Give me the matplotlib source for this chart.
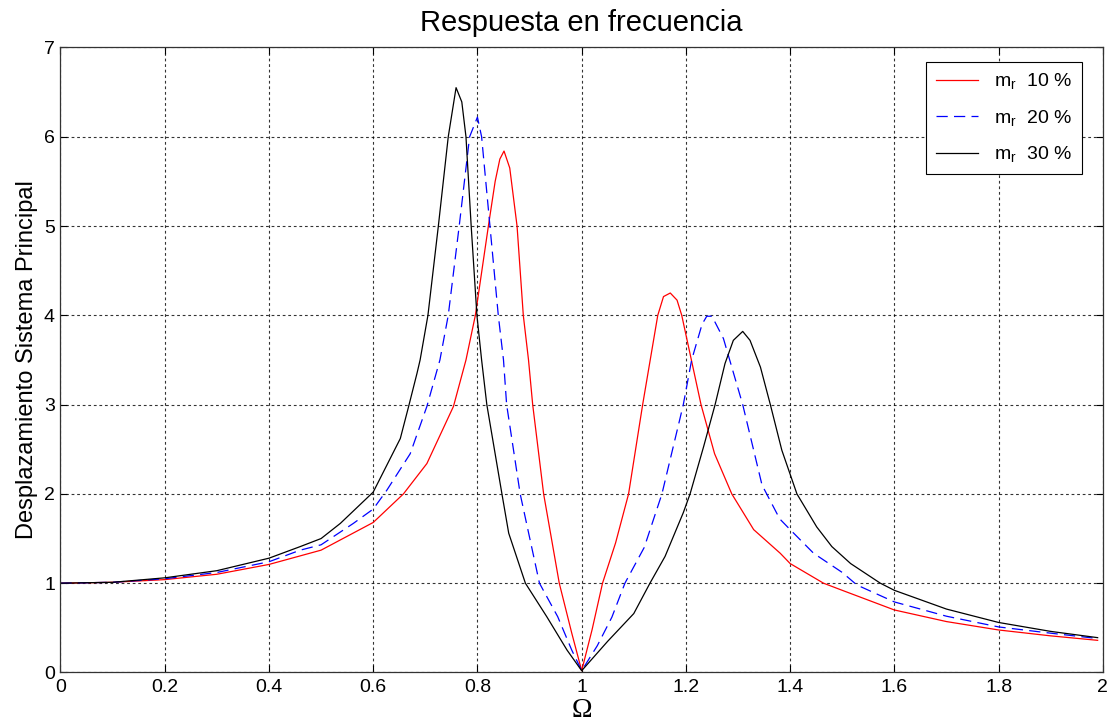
import matplotlib
matplotlib.use("Agg")
import matplotlib.pyplot as plt

# readings (Omega, displacement)
omega_10 = [0.0, 0.1, 0.2, 0.3, 0.4, 0.5, 0.6, 0.658, 0.703, 0.754, 0.778, 0.796,
            0.821, 0.834, 0.843, 0.851, 0.862, 0.876, 0.888, 0.898, 0.906, 0.927,
            0.957, 0.981, 1.0, 1.02, 1.04, 1.065, 1.09, 1.117, 1.146, 1.157, 1.170,
            1.183, 1.192, 1.229, 1.255, 1.288, 1.33, 1.381, 1.4, 1.464, 1.5, 1.6,
            1.7, 1.8, 1.9, 1.99]
disp_10 = [1.0, 1.01, 1.04, 1.10, 1.21, 1.37, 1.68, 2.0, 2.34, 2.98, 3.5, 4.0,
           5.0, 5.5, 5.75, 5.84, 5.65, 5.0, 4.0, 3.5, 3.0, 2.0,
           1.0, 0.44, 0.02, 0.48, 1.0, 1.45, 2.0, 3.0, 4.0, 4.21, 4.25,
           4.17, 4.0, 3.0, 2.45, 2.0, 1.6, 1.335, 1.22, 1.0, 0.92, 0.70,
           0.57, 0.476, 0.41, 0.36]

omega_20 = [0.0, 0.1, 0.2, 0.3, 0.4, 0.46, 0.5, 0.562, 0.6, 0.626, 0.671, 0.703,
            0.728, 0.744, 0.765, 0.785, 0.800, 0.808, 0.824, 0.840, 0.850, 0.856,
            0.882, 0.919, 0.954, 0.981, 1.0, 1.03, 1.058, 1.083, 1.12, 1.154,
            1.195, 1.211, 1.231, 1.24, 1.25, 1.272, 1.309, 1.346, 1.38, 1.4,
            1.445, 1.5, 1.528, 1.6, 1.7, 1.8, 1.9, 1.99]
disp_20 = [1.0, 1.01, 1.05, 1.12, 1.24, 1.37, 1.43, 1.67, 1.83, 2.04, 2.45, 2.98,
           3.5, 4.0, 5.0, 6.0, 6.22, 6.0, 5.0, 4.0, 3.5, 3.0,
           2.0, 1.0, 0.625, 0.25, 0.02, 0.3, 0.62, 1.0, 1.4, 2.0,
           3.0, 3.5, 3.9, 3.99, 3.99, 3.74, 3.0, 2.1, 1.72, 1.6,
           1.335, 1.12, 0.98, 0.79, 0.63, 0.51, 0.44, 0.38]

omega_30 = [0.0, 0.1, 0.2, 0.3, 0.4, 0.46, 0.5, 0.537, 0.6, 0.652, 0.668, 0.684,
            0.690, 0.705, 0.725, 0.744, 0.759, 0.770, 0.778, 0.788, 0.799, 0.808,
            0.818, 0.847, 0.860, 0.892, 0.933, 0.972, 1.0, 1.05, 1.1, 1.131,
            1.16, 1.195, 1.208, 1.234, 1.256, 1.275, 1.291, 1.309, 1.323, 1.343,
            1.362, 1.384, 1.413, 1.451, 1.48, 1.516, 1.573, 1.6, 1.7, 1.8, 1.9, 1.99]
disp_30 = [1.0, 1.01, 1.06, 1.14, 1.28, 1.41, 1.50, 1.67, 2.02, 2.62, 2.98, 3.35,
           3.5, 4.0, 5.0, 6.0, 6.55, 6.39, 6.0, 5.0, 4.0, 3.5,
           3.0, 2.0, 1.56, 1.0, 0.625, 0.25, 0.02, 0.35, 0.66, 1.0,
           1.3, 1.79, 2.0, 2.53, 3.0, 3.46, 3.72, 3.82, 3.72, 3.42,
           3.0, 2.49, 2.0, 1.63, 1.41, 1.22, 1.0, 0.92, 0.71, 0.56, 0.46, 0.39]

labels = [r"m$_{\mathrm{r}}$  10 %", r"m$_{\mathrm{r}}$  20 %", r"m$_{\mathrm{r}}$  30 %"]

plt.rcParams["font.family"] = ["Liberation Sans", "DejaVu Sans"]
plt.rcParams["mathtext.fontset"] = "custom"
plt.rcParams["mathtext.rm"] = "Liberation Sans"
plt.rcParams["mathtext.it"] = "Liberation Sans:italic"

fig = plt.figure(figsize=(11.14, 7.27), dpi=100)
ax = fig.add_axes([0.0543, 0.075, 0.9357, 0.8597])

ax.plot(omega_10, disp_10, color="#ff0000", lw=0.9, label=labels[0])
ax.plot(omega_20, disp_20, color="#0000ff", lw=0.9, dashes=(9, 5), label=labels[1])
ax.plot(omega_30, disp_30, color="black", lw=0.9, label=labels[2])

ax.set_xlim(0, 2)
ax.set_ylim(0, 7)
ax.set_xticks([0, 0.2, 0.4, 0.6, 0.8, 1, 1.2, 1.4, 1.6, 1.8, 2])
ax.set_xticklabels(["0", "0.2", "0.4", "0.6", "0.8", "1", "1.2", "1.4", "1.6", "1.8", "2"])
ax.set_yticks(range(8))
ax.grid(True, color="black", linestyle=(0, (2.5, 2.5)), linewidth=0.8, alpha=0.8)
ax.tick_params(direction="in", length=5, top=True, right=True, labelsize=14)
ax.tick_params(axis="x", pad=5)
ax.tick_params(axis="y", pad=4)
for s in ax.spines.values():
    s.set_color("#333333")
    s.set_linewidth(0.9)

ax.set_title("Respuesta en frecuencia", fontsize=21, pad=12)
ax.set_ylabel("Desplazamiento Sistema Principal", fontsize=17)
ax.set_xlabel("Ω", fontsize=20, family=["Liberation Serif", "DejaVu Serif"], labelpad=1)

leg = ax.legend(loc="upper right", bbox_to_anchor=(0.9796, 0.9773), borderaxespad=0,
                fontsize=14, fancybox=False, framealpha=1, edgecolor="black",
                handlelength=2.2, borderpad=0.5, labelspacing=0.85)
leg.get_frame().set_linewidth(0.8)

fig.savefig("out.png", dpi=100)
